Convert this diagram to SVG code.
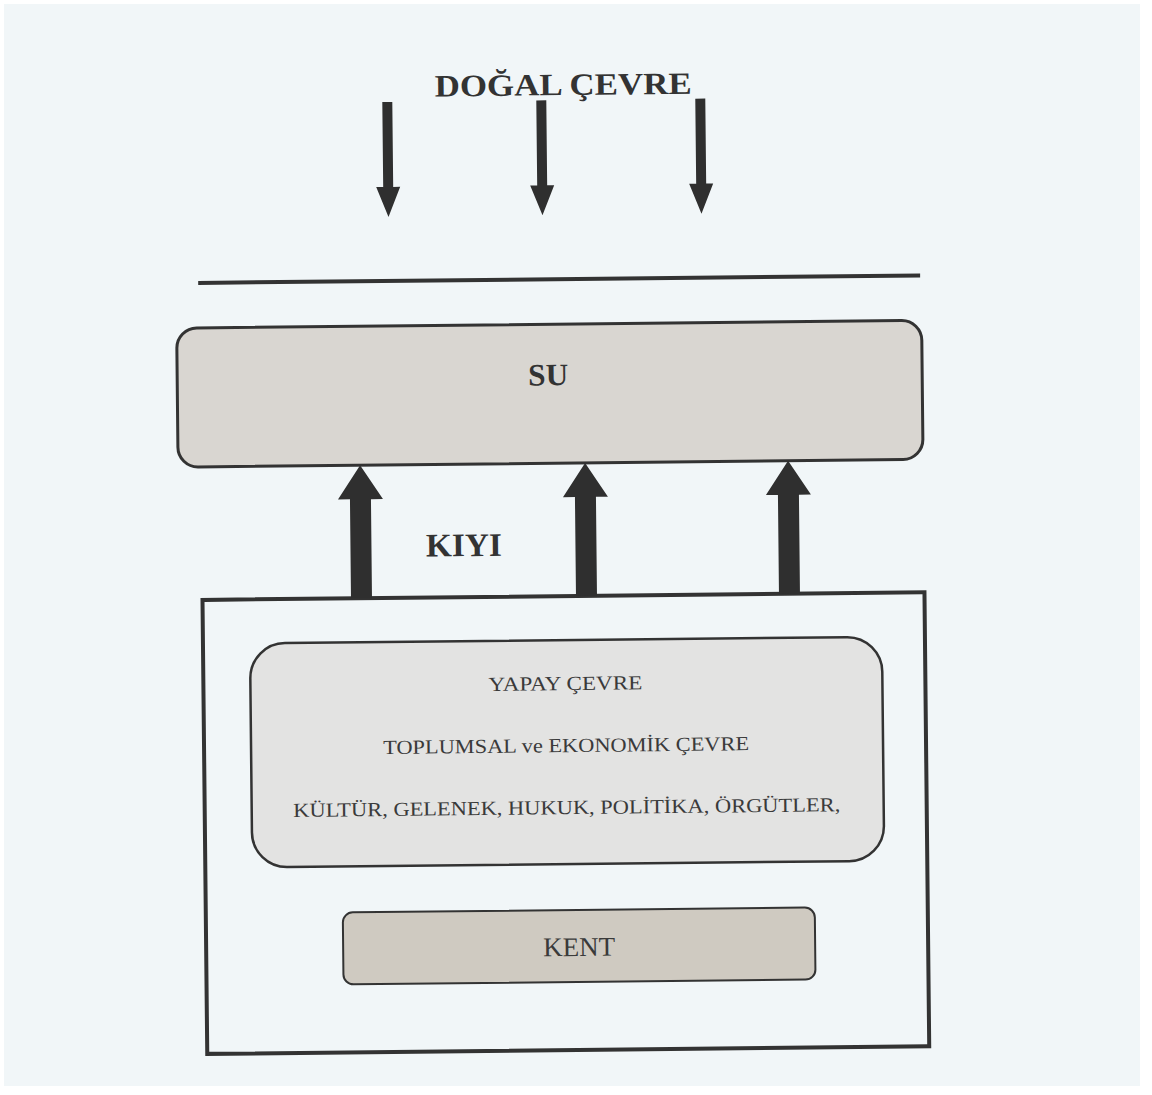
<svg xmlns="http://www.w3.org/2000/svg" width="1152" height="1095" viewBox="0 0 1152 1095">
  <style>
    .bold { font-family: "Liberation Serif", "Times New Roman", serif; font-weight: bold; fill: #333333; }
    .reg { font-family: "Liberation Serif", "Times New Roman", serif; fill: #3a3a3a; }
    .arrow { fill: #2f2f2f; stroke: none; }
    .box { stroke: #333333; }
  </style>
  <rect x="0" y="0" width="1152" height="1095" fill="#ffffff"/>
  <rect x="4" y="4" width="1136" height="1082" fill="#f1f6f8"/>
  <g transform="rotate(-0.6 576 550)">
    <g id="dogal-cevre">
      <text class="bold" x="568" y="95" font-size="31" text-anchor="middle" textLength="257" lengthAdjust="spacingAndGlyphs">DOĞAL ÇEVRE</text>
    </g>
    <g id="sinir-cizgisi">
      <line x1="201" y1="279" x2="923" y2="279" stroke="#333333" stroke-width="4"/>
    </g>
    <g id="su">
      <rect class="box" x="179" y="324" width="745" height="139" rx="20" fill="#d9d6d1" stroke-width="3"/>
      <text class="bold" x="550" y="385" font-size="31" text-anchor="middle" textLength="40" lengthAdjust="spacingAndGlyphs">SU</text>
    </g>
    <g id="kiyi">
      <rect class="box" x="202" y="596" width="722" height="454" fill="none" stroke-width="4"/>
      <text class="bold" x="464" y="555" font-size="33" text-anchor="middle" textLength="76" lengthAdjust="spacingAndGlyphs">KIYI</text>
    </g>
    <g id="yapay-cevre">
      <rect class="box" x="249" y="640" width="632" height="224" rx="35" fill="#e3e3e2" stroke-width="2.5"/>
      <text class="reg" x="564" y="690" font-size="20" text-anchor="middle" textLength="154" lengthAdjust="spacingAndGlyphs">YAPAY ÇEVRE</text>
      <text class="reg" x="564" y="752" font-size="20" text-anchor="middle" textLength="366" lengthAdjust="spacingAndGlyphs">TOPLUMSAL ve EKONOMİK ÇEVRE</text>
      <text class="reg" x="564" y="814" font-size="20" text-anchor="middle" textLength="547" lengthAdjust="spacingAndGlyphs">KÜLTÜR, GELENEK, HUKUK, POLİTİKA, ÖRGÜTLER,</text>
    </g>
    <g id="kent">
      <rect class="box" x="339" y="910" width="472" height="72" rx="10" fill="#cfcac1" stroke-width="2"/>
      <text class="reg" x="575" y="956" font-size="27" text-anchor="middle" textLength="72" lengthAdjust="spacingAndGlyphs">KENT</text>
    </g>
    <g id="connectors">
      <!-- down arrows from DOĞAL ÇEVRE -->
      <path class="arrow" d="M387,100 h10 v85 h7 l-12,30 l-12,-30 h7 z"/>
      <path class="arrow" d="M541,100 h10 v85 h7 l-12,30 l-12,-30 h7 z"/>
      <path class="arrow" d="M700,100 h10 v85 h7 l-12,30 l-12,-30 h7 z"/>
      <!-- up arrows from KIYI to SU -->
      <path class="arrow" d="M350.5,596 v-99 h-12 l22.5,-34 l22.5,34 h-12 v99 z"/>
      <path class="arrow" d="M575.5,596 v-99 h-12 l22.5,-34 l22.5,34 h-12 v99 z"/>
      <path class="arrow" d="M778.5,596 v-99 h-12 l22.5,-34 l22.5,34 h-12 v99 z"/>
    </g>
  </g>
</svg>
